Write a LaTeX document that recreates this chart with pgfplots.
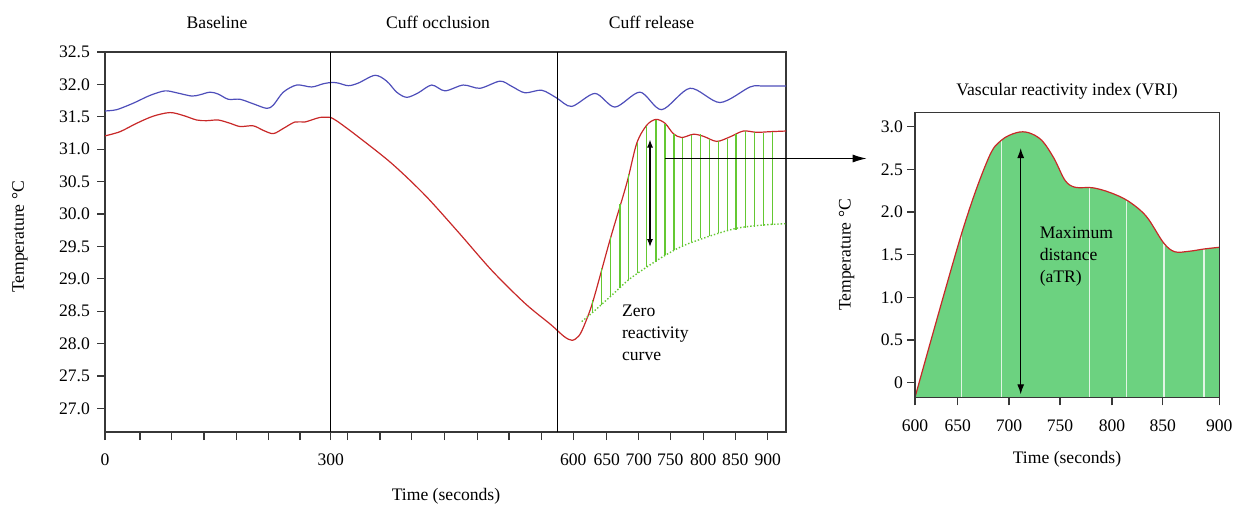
\documentclass[border=0pt]{standalone}
\usepackage{fontspec}
\setmainfont{Liberation Serif}
\usepackage{pgfplots}
\pgfplotsset{compat=1.18}
\usepackage{pgfplotstable}
\usetikzlibrary{arrows.meta}
\definecolor{cred}{RGB}{200,40,40}
\definecolor{cblue}{RGB}{78,78,186}
\definecolor{cgl}{RGB}{100,200,50}
\definecolor{cfill}{RGB}{108,210,128}
\definecolor{cwl}{RGB}{225,245,228}
\definecolor{cframe}{RGB}{55,55,55}

% left panel: x = horizontal position (schematic, non-linear time axis)
\pgfplotstableread{
x y
0 31.59
11.7 31.61
28.3 31.71
45 31.83
60 31.90
71.7 31.87
86.7 31.82
95 31.84
105 31.88
113.3 31.85
123.3 31.77
135 31.77
148.3 31.70
161.7 31.63
168.3 31.68
178.3 31.88
191.7 31.99
206.7 31.96
218.3 32.01
226.7 32.03
233.3 32.02
243.3 31.98
253.3 32.02
270 32.14
281.7 32.05
291.7 31.88
301.7 31.80
313.3 31.87
326.7 31.99
340 31.90
358.3 31.99
375 31.94
395 32.05
406.7 31.97
420 31.87
436.7 31.91
451.7 31.79
466.7 31.66
490 31.86
510 31.65
535 31.88
556.7 31.61
585 31.94
615 31.72
645 31.96
658.3 31.975
681 31.975
}\bluetab

\pgfplotstableread{
x y
0 31.205
15 31.27
31.7 31.40
48.3 31.51
65 31.565
78.3 31.52
91.7 31.45
101.7 31.44
113.3 31.45
125 31.40
135 31.35
148.3 31.36
158.3 31.29
168.3 31.24
178.3 31.32
190 31.42
200 31.42
215 31.49
225.7 31.49
}\redbase

\pgfplotstableread{
x y
225.7 31.49
233.3 31.42
253.3 31.19
286.7 30.78
320 30.29
353.3 29.72
386.7 29.13
420 28.62
446 28.29
459 28.11
467 28.05
474 28.12
480 28.31
488.3 28.67
505 29.60
521.7 30.47
531.7 31.09
541.7 31.37
551 31.46
560 31.40
568.3 31.24
576.7 31.18
588.3 31.23
598.3 31.20
611.7 31.12
625 31.19
638.3 31.28
651.7 31.26
665 31.27
681 31.28
}\redrest

\pgfplotstableread{
x y
476.7 28.34
488.3 28.49
505 28.72
523.3 28.98
541.7 29.18
560 29.36
578.3 29.51
605 29.66
631.7 29.78
658.3 29.83
681 29.85
}\zerotab

\pgfplotstableread{
x lo hi
487.7 28.465 28.67
496.7 28.593 29.16
505.7 28.722 29.65
515 28.85 30.16
523.7 28.979 30.62
532.7 29.082 31.09
541.7 29.185 31.355
551 29.262 31.457
560 29.364 31.385
569 29.442 31.241
577.7 29.508 31.179
586.7 29.57 31.22
595.7 29.622 31.23
604.3 29.658 31.164
613.3 29.699 31.123
622.3 29.735 31.164
631 29.76 31.241
640.3 29.786 31.282
649.3 29.801 31.267
658.7 29.817 31.256
667.7 29.832 31.267
}\hatchtab

% right panel
\pgfplotstableread{
x y
600 -0.171
646 1.75
672 2.62
685 2.84
700 2.93
712 2.93
725 2.84
737 2.63
748 2.37
758 2.29
775 2.285
792 2.23
810 2.13
828 1.95
845 1.64
856 1.535
870 1.54
885 1.567
900 1.587
}\vritab

\pgfplotstableread{
x lo hi
646.0 -0.171 1.75
685.5 -0.171 2.844
771.9 -0.171 2.285
808.7 -0.171 2.14
845.5 -0.171 1.63
884.9 -0.171 1.567
}\whitetab

\begin{document}
\begin{tikzpicture}[font=\fontsize{8.8}{11}\selectfont]
\useasboundingbox (0,0) rectangle (617.5pt,254pt);

\begin{axis}[
  at={(52.5pt,38pt)}, anchor=south west,
  scale only axis, width=340.5pt, height=190pt,
  xmin=0, xmax=681, ymin=26.635, ymax=32.5,
  axis line style={cframe, line width=0.7pt},
  tick style={cframe, line width=0.6pt},
  tick align=outside, major tick length=4pt, tick pos=left,
  xtick={0,35,66.3,99,131.7,163.3,195,225.7,242.3,275,306.7,339.3,372.7,404,436.3,468.3,501.7,533.7,565.3,598.3,630.3,662.7},
  xticklabels={0,,,,,,,300,,,,,,,,600,650,700,750,800,850,900},
  ytick={27,27.5,28,28.5,29,29.5,30,30.5,31,31.5,32,32.5},
  yticklabels={27.0,27.5,28.0,28.5,29.0,29.5,30.0,30.5,31.0,31.5,32.0,32.5},
  /pgf/number format/assume math mode=true,
  tick label style={font=\fontsize{8.8}{11}\selectfont},
  xticklabel style={yshift=-3.5pt},
]
\addplot[cblue, line width=0.6pt, smooth, tension=0.5] table[x=x,y=y] {\bluetab};
\addplot[cred, line width=0.6pt, smooth, tension=0.5] table[x=x,y=y] {\redbase};
\addplot[cred, line width=0.6pt, smooth, tension=0.5] table[x=x,y=y] {\redrest};
\addplot[cgl, line width=0.7pt, densely dotted, smooth] table[x=x,y=y] {\zerotab};
\addplot[draw=none, mark=none,
  error bars/.cd, y dir=plus, y explicit, error mark=none,
  error bar style={draw=cgl, line width=0.75pt, solid}]
  table[x=x, y=lo, y error plus expr=\thisrow{hi}-\thisrow{lo}] {\hatchtab};
\draw[black, line width=0.6pt] (axis cs:225.7,26.635) -- (axis cs:225.7,32.5);
\draw[black, line width=0.6pt] (axis cs:452.3,26.635) -- (axis cs:452.3,32.5);
\draw[black, line width=0.6pt, {Latex[length=4pt,width=3pt]}-{Latex[length=4pt,width=3pt]}]
  (axis cs:545,31.149) -- (axis cs:545,29.49);
\coordinate (hs) at (axis cs:560,30.856);
\end{axis}

\begin{axis}[
  at={(457.5pt,55.35pt)}, anchor=south west,
  scale only axis, width=152.15pt, height=142.5pt,
  xmin=600, xmax=900, ymin=-0.171, ymax=3.169,
  axis line style={cframe, line width=0.7pt},
  tick style={cframe, line width=0.6pt},
  tick align=outside, major tick length=4pt, tick pos=left,
  xtick={600,642.1,692.7,743,794.2,844.2,900},
  xticklabels={600,650,700,750,800,850,900},
  ytick={0,0.5,1,1.5,2,2.5,3},
  yticklabels={0,0.5,1.0,1.5,2.0,2.5,3.0},
  /pgf/number format/assume math mode=true,
  tick label style={font=\fontsize{8.8}{11}\selectfont},
  xticklabel style={yshift=-3.5pt},
  yticklabel style={xshift=1.5pt},
  axis on top,
]
\addplot[fill=cfill, draw=none, smooth, tension=0.55] table[x=x,y=y] {\vritab} -- (axis cs:900,-0.171) -- cycle;
\addplot[draw=none, mark=none,
  error bars/.cd, y dir=plus, y explicit, error mark=none,
  error bar style={draw=cwl, line width=0.7pt, solid}]
  table[x=x, y=lo, y error plus expr=\thisrow{hi}-\thisrow{lo}] {\whitetab};
\addplot[cred, line width=0.6pt, smooth, tension=0.55] table[x=x,y=y] {\vritab};
\draw[black, line width=0.6pt, {Latex[length=5pt,width=3.5pt]}-{Latex[length=5pt,width=3.5pt]}]
  (axis cs:704.2,2.75) -- (axis cs:704.2,-0.136);
\end{axis}

\coordinate (he) at (433.35pt,0pt);
\draw[black, line width=0.6pt, -{Latex[length=7pt,width=4pt]}] (hs) -- (hs -| he);

\node at (108.5pt,243pt) {Baseline};
\node at (219pt,243pt) {Cuff occlusion};
\node at (325.75pt,243pt) {Cuff release};
\node[rotate=90] at (10pt,135.5pt) {Temperature °C};
\node at (223pt,6pt) {Time (seconds)};
\node[anchor=west, align=left] at (307.5pt,87.65pt) {Zero\\reactivity\\curve};
\node at (533.5pt,208.15pt) {Vascular reactivity index (VRI)};
\node at (533.5pt,24.5pt) {Time (seconds)};
\node[rotate=90] at (423.35pt,126.5pt) {Temperature °C};
\node[anchor=west, align=left] at (516.35pt,125.65pt) {Maximum\\distance\\(aTR)};
\end{tikzpicture}
\end{document}
